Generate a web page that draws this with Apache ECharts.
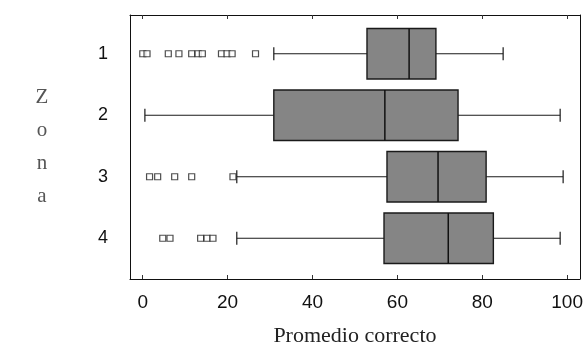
<!DOCTYPE html>
<html>
<head>
<meta charset="utf-8">
<script src="https://cdn.jsdelivr.net/npm/echarts@6/dist/echarts.min.js"></script>
<style>html,body{margin:0;padding:0;background:#fff}#c{width:586px;height:352px}</style>
</head>
<body>
<div id="c"></div>
<script>
// Data
const zonas = ['1', '2', '3', '4'];
// [lower whisker, Q1, median, Q3, upper whisker]
const zona1 = [30.8, 52.7, 62.6, 68.9, 84.7];
const zona2 = [0.5, 30.8, 56.9, 74.1, 98.1];
const zona3 = [22.1, 57.4, 69.4, 80.7, 98.8];
const zona4 = [22.1, 56.7, 71.8, 82.4, 98.1];
const outliers1 = [0, 1, 6, 8.5, 11.5, 13, 14, 18.5, 19.8, 21, 26.5];
const outliers2 = [];
const outliers3 = [1.6, 3.5, 7.5, 11.5, 21.2];
const outliers4 = [4.7, 6.4, 13.6, 15.1, 16.5];
const xTicks = [0, 20, 40, 60, 80, 100];

const boxData = [zona1, zona2, zona3, zona4].map((b, i) => [i].concat(b));
const outlierSets = [outliers1, outliers2, outliers3, outliers4];
const outlierData = [];
outlierSets.forEach((arr, i) => arr.forEach(v => outlierData.push([v, i])));

function renderBox(params, api) {
  const cat = api.value(0);
  const lo = api.coord([api.value(1), cat]);
  const q1 = api.coord([api.value(2), cat]);
  const md = api.coord([api.value(3), cat]);
  const q3 = api.coord([api.value(4), cat]);
  const hi = api.coord([api.value(5), cat]);
  const band = api.size([0, 1])[1];
  const bh = band * 0.82;
  const cy = lo[1];
  const cap = 6.5;
  const line = {stroke: '#1a1a1a', lineWidth: 1.2};
  return {
    type: 'group',
    children: [
      {type: 'line', shape: {x1: lo[0], y1: cy, x2: q1[0], y2: cy}, style: line},
      {type: 'line', shape: {x1: q3[0], y1: cy, x2: hi[0], y2: cy}, style: line},
      {type: 'line', shape: {x1: lo[0], y1: cy - cap, x2: lo[0], y2: cy + cap}, style: line},
      {type: 'line', shape: {x1: hi[0], y1: cy - cap, x2: hi[0], y2: cy + cap}, style: line},
      {type: 'rect', shape: {x: q1[0], y: cy - bh / 2, width: q3[0] - q1[0], height: bh},
       style: {fill: '#858585', stroke: '#1a1a1a', lineWidth: 1.4}},
      {type: 'line', shape: {x1: md[0], y1: cy - bh / 2, x2: md[0], y2: cy + bh / 2},
       style: {stroke: '#111', lineWidth: 1.5}}
    ]
  };
}

const chart = echarts.init(document.getElementById('c'));
const xMin = -3, xMax = 103;
chart.setOption({
  animation: false,
  backgroundColor: '#fff',
  grid: [
    {left: 130, right: 5, top: 15, bottom: 73},
    {left: 130, right: 5, top: 23, bottom: 83}
  ],
  xAxis: [
    {gridIndex: 0, type: 'value', min: xMin, max: xMax, position: 'bottom',
     name: 'Promedio correcto', nameLocation: 'middle', nameGap: 46,
     nameTextStyle: {fontFamily: 'Liberation Serif', fontSize: 22, color: '#222'},
     axisLine: {show: true, onZero: false, lineStyle: {color: '#111', width: 1}},
     axisTick: {show: true, inside: true, length: 4, customValues: xTicks, lineStyle: {color: '#333'}},
     axisLabel: {show: true, customValues: xTicks, fontFamily: 'Liberation Sans', fontSize: 19, color: '#111', margin: 14},
     splitLine: {show: false}},
    {gridIndex: 0, type: 'value', min: xMin, max: xMax, position: 'top',
     axisLine: {show: true, onZero: false, lineStyle: {color: '#111', width: 1}},
     axisTick: {show: true, inside: true, length: 4, customValues: xTicks, lineStyle: {color: '#333'}},
     axisLabel: {show: false}, splitLine: {show: false}},
    {gridIndex: 1, type: 'value', min: xMin, max: xMax, show: false}
  ],
  yAxis: [
    {gridIndex: 0, type: 'value', min: 0, max: 1, position: 'left',
     name: 'Z\no\nn\na', nameLocation: 'middle', nameRotate: 0, nameGap: 88,
     nameTextStyle: {fontFamily: 'Liberation Serif', fontSize: 21, color: '#555', lineHeight: 33, align: 'center'},
     axisLine: {show: true, onZero: false, lineStyle: {color: '#111', width: 1}},
     axisTick: {show: false}, axisLabel: {show: false}, splitLine: {show: false}},
    {gridIndex: 0, type: 'value', min: 0, max: 1, position: 'right',
     axisLine: {show: true, onZero: false, lineStyle: {color: '#111', width: 1}},
     axisTick: {show: false}, axisLabel: {show: false}, splitLine: {show: false}},
    {gridIndex: 1, type: 'category', data: zonas, inverse: true, boundaryGap: true,
     axisLine: {show: false}, axisTick: {show: false}, splitLine: {show: false},
     axisLabel: {fontFamily: 'Liberation Sans', fontSize: 18, color: '#111', margin: 22}}
  ],
  series: [
    {type: 'custom', xAxisIndex: 2, yAxisIndex: 2, data: boxData,
     encode: {x: [1, 2, 3, 4, 5], y: 0}, renderItem: renderBox},
    {type: 'scatter', xAxisIndex: 2, yAxisIndex: 2, data: outlierData,
     symbol: 'rect', symbolSize: 6,
     itemStyle: {color: '#fff', borderColor: '#222', borderWidth: 1.2}}
  ]
});
</script>
</body>
</html>
